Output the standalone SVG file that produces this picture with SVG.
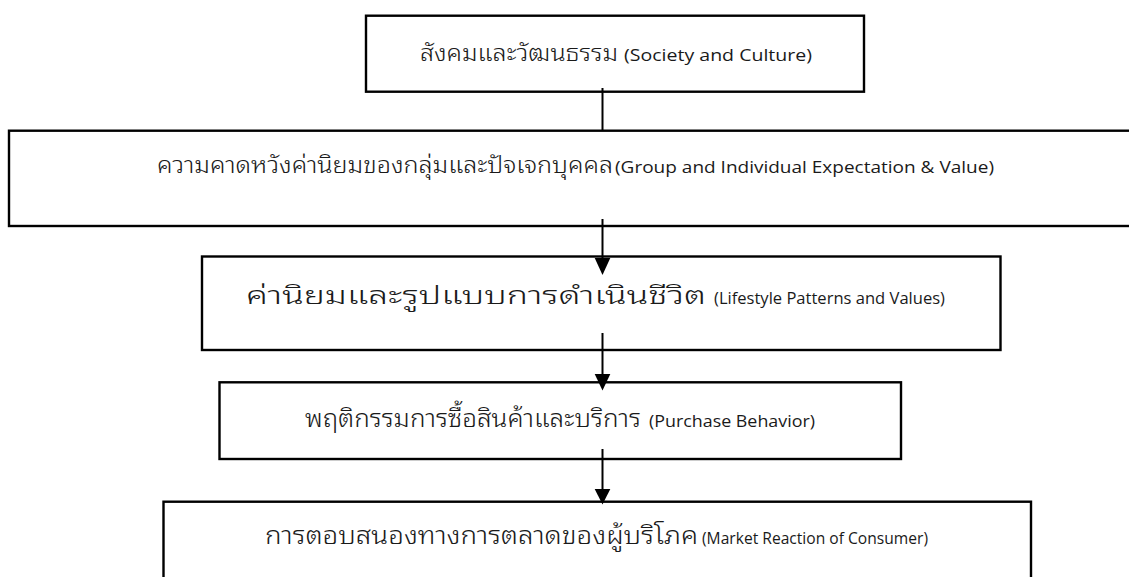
<svg xmlns="http://www.w3.org/2000/svg" width="1129" height="577" viewBox="0 0 1129 577">
<style>
.box{fill:#ffffff;stroke:#000000;stroke-width:2.4}
.conn{stroke:#000000;stroke-width:2;fill:none}
.head{fill:#000000}
.lbl{fill:#1a1a1a}
.th{font-family:"Noto Sans Thai Looped","Noto Serif Thai","Loma","Garuda","Waree","Sarabun","Tahoma","Noto Sans Thai","DejaVu Sans",sans-serif;font-size:23px;font-weight:300}
.en{font-family:"Open Sans","Noto Sans","Liberation Sans",sans-serif;font-size:16.5px}
.big{font-size:25px}
.tall{font-size:25px}
</style>
<rect width="1129" height="577" fill="#ffffff"/>
<g id="node-society">
<rect class="box" x="366" y="15.7" width="498" height="76"/>
<text class="lbl" y="61"><tspan class="th" x="420" textLength="198" lengthAdjust="spacingAndGlyphs">สังคมและวัฒนธรรม</tspan><tspan class="en" x="624" textLength="188" lengthAdjust="spacingAndGlyphs">(Society and Culture)</tspan></text>
</g>
<g id="node-group">
<rect class="box" x="9" y="130.7" width="1140" height="95.3"/>
<text class="lbl" y="173"><tspan class="th" x="157" textLength="456" lengthAdjust="spacingAndGlyphs">ความคาดหวังค่านิยมของกลุ่มและปัจเจกบุคคล</tspan><tspan class="en" x="615" textLength="379" lengthAdjust="spacingAndGlyphs">(Group and Individual Expectation &amp; Value)</tspan></text>
</g>
<g id="node-lifestyle">
<rect class="box" x="202" y="256.5" width="798.5" height="93.5"/>
<text class="lbl" y="304"><tspan class="th big" x="246" textLength="460" lengthAdjust="spacingAndGlyphs">ค่านิยมและรูปแบบการดำเนินชีวิต</tspan><tspan class="en" x="714" textLength="231" lengthAdjust="spacingAndGlyphs">(Lifestyle Patterns and Values)</tspan></text>
</g>
<g id="node-purchase">
<rect class="box" x="219.5" y="382.3" width="681.5" height="76.7"/>
<text class="lbl" y="427"><tspan class="th tall" x="305" textLength="336" lengthAdjust="spacingAndGlyphs">พฤติกรรมการซื้อสินค้าและบริการ</tspan><tspan class="en" x="649" textLength="166" lengthAdjust="spacingAndGlyphs">(Purchase Behavior)</tspan></text>
</g>
<g id="node-market">
<rect class="box" x="163.5" y="501.7" width="867.5" height="90"/>
<text class="lbl" y="544"><tspan class="th tall" x="265" textLength="433" lengthAdjust="spacingAndGlyphs">การตอบสนองทางการตลาดของผู้บริโภค</tspan><tspan class="en" x="702" textLength="226" lengthAdjust="spacingAndGlyphs">(Market Reaction of Consumer)</tspan></text>
</g>
<g id="connectors">
<line class="conn" x1="602.5" y1="88" x2="602.5" y2="131"/>
<line class="conn" x1="602.5" y1="219" x2="602.5" y2="260"/>
<path class="head" d="M594.7,258 L610.3,258 L602.5,275 Z"/>
<line class="conn" x1="602.5" y1="333" x2="602.5" y2="376"/>
<path class="head" d="M594.7,374 L610.3,374 L602.5,390.5 Z"/>
<line class="conn" x1="602.5" y1="449" x2="602.5" y2="492"/>
<path class="head" d="M594.7,489 L610.3,489 L602.5,504.5 Z"/>
</g>
</svg>
